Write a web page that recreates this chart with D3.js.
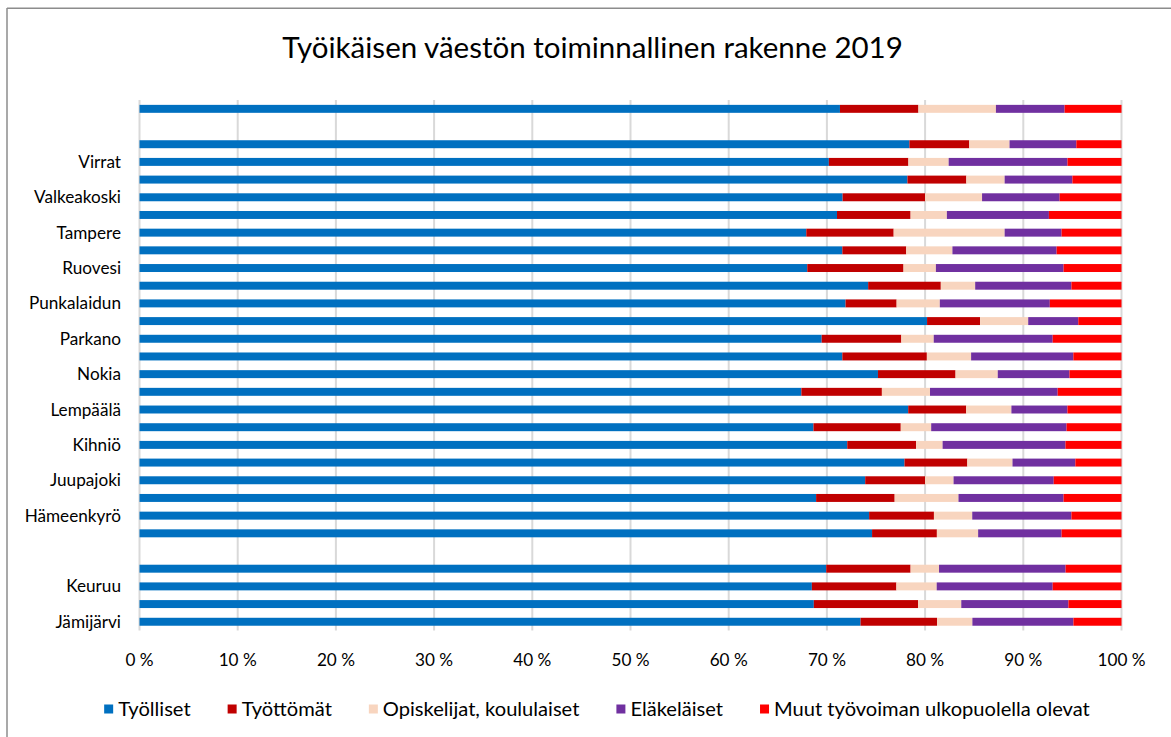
<!DOCTYPE html>
<html>
<head>
<meta charset="utf-8">
<script src="https://cdn.jsdelivr.net/npm/d3@7"></script>
<style>
  body { margin: 0; background: #fff; }
  svg { display: block; }
  text { font-family: Lato, "Open Sans", sans-serif; fill: #000; }
</style>
</head>
<body>
<svg id="chart" width="1171" height="737"></svg>
<script>
// Categories, bottom row first (empty strings are spacer rows)
const municipalities = [
  "Jämijärvi", "Kankaanpää", "Keuruu", "Multia", "",
  "Akaa", "Hämeenkyrö", "Ikaalinen", "Juupajoki", "Kangasala",
  "Kihniö", "Kuhmoinen", "Lempäälä", "Mänttä-Vilppula", "Nokia",
  "Orivesi", "Parkano", "Pirkkala", "Punkalaidun", "Pälkäne",
  "Ruovesi", "Sastamala", "Tampere", "Urjala", "Valkeakoski",
  "Vesilahti", "Virrat", "Ylöjärvi", "", "Pirkanmaa"
];

const seriesNames = ["Työlliset", "Työttömät", "Opiskelijat, koululaiset", "Eläkeläiset", "Muut työvoiman ulkopuolella olevat"];
const seriesColors = ["#0070C0", "#C00000", "#F8D5BF", "#7030A0", "#FF0000"];

// Shares of the working-age population, %
const tyolliset   = [73.5, 68.6, 68.4, 70.0, 0, 74.6, 74.3, 68.9, 73.9, 77.9, 72.0, 68.7, 78.2, 67.4, 75.2, 71.5, 69.4, 80.2, 71.9, 74.2, 68.0, 71.5, 67.9, 71.1, 71.6, 78.2, 70.2, 78.4, 0, 71.4];
const tyottomat   = [7.8, 10.6, 8.6, 8.6, 0, 6.6, 6.6, 8.0, 6.1, 6.4, 7.0, 8.9, 5.9, 8.2, 7.9, 8.6, 8.1, 5.4, 5.2, 7.4, 9.8, 6.5, 8.9, 7.5, 8.4, 6.0, 8.1, 6.1, 0, 8.0];
const opiskelijat = [3.6, 4.4, 4.1, 2.9, 0, 4.2, 3.9, 6.5, 2.9, 4.6, 2.7, 3.1, 4.6, 4.9, 4.3, 4.5, 3.3, 4.9, 4.4, 3.5, 3.3, 4.7, 11.3, 3.7, 5.8, 3.9, 4.1, 4.1, 0, 7.9];
const elakelaiset = [10.3, 10.9, 11.8, 12.9, 0, 8.5, 10.1, 10.7, 10.2, 6.4, 12.5, 13.8, 5.7, 13.0, 7.3, 10.4, 12.1, 5.1, 11.2, 9.8, 13.0, 10.6, 5.8, 10.4, 7.9, 6.9, 12.1, 6.8, 0, 7.0];
const muut        = [4.9, 5.4, 7.0, 5.7, 0, 6.1, 5.1, 5.9, 6.9, 4.7, 5.7, 5.6, 5.5, 6.5, 5.3, 4.9, 7.0, 4.4, 7.3, 5.1, 5.9, 6.6, 6.1, 7.4, 6.3, 5.0, 5.5, 4.6, 0, 5.8];

const xTicks = [0, 10, 20, 30, 40, 50, 60, 70, 80, 90, 100];
const titleText = "Työikäisen väestön toiminnallinen rakenne 2019";

const seriesValues = [tyolliset, tyottomat, opiskelijat, elakelaiset, muut];
const rows = municipalities.map((name, i) => {
  const r = { idx: i, name };
  seriesNames.forEach((s, k) => { r[s] = seriesValues[k][i]; });
  return r;
});

const svg = d3.select("#chart");

// chart frame (left and top edges visible)
svg.append("line").attr("x1", 7).attr("x2", 7).attr("y1", 8).attr("y2", 737)
  .attr("stroke", "#8c8c8c").attr("stroke-width", 1.5);
svg.append("line").attr("x1", 7).attr("x2", 1171).attr("y1", 8.3).attr("y2", 8.3)
  .attr("stroke", "#8c8c8c").attr("stroke-width", 1.5);

const x = d3.scaleLinear().domain([0, 1]).range([139.5, 1121.5]);
const y = d3.scaleBand()
  .domain(d3.range(municipalities.length).reverse())
  .range([100, 630.6])
  .paddingInner(0.55)
  .paddingOuter(0.275);

// vertical gridlines
svg.append("g").selectAll("line").data(xTicks).join("line")
  .attr("x1", d => x(d / 100)).attr("x2", d => x(d / 100))
  .attr("y1", 100).attr("y2", 630.6)
  .attr("stroke", "#d9d9d9").attr("stroke-width", 2);

// 100 % stacked bars
const stack = d3.stack().keys(seriesNames).offset(d3.stackOffsetExpand);
const stacked = stack(rows);

svg.append("g").selectAll("g").data(stacked).join("g")
  .attr("fill", (d, k) => seriesColors[k])
  .selectAll("rect")
  .data(d => d.filter(p => p.data.name !== ""))
  .join("rect")
  .attr("x", p => x(p[0]))
  .attr("width", p => Math.max(0, x(p[1]) - x(p[0])))
  .attr("y", p => y(p.data.idx))
  .attr("height", y.bandwidth());

// fit a text element's font size to a target width
function fitFont(sel, target) {
  const w = sel.node().getComputedTextLength();
  const fs = parseFloat(sel.attr("font-size"));
  return fs * target / w;
}

// label font size from a reference label width
const probe = svg.append("text").attr("font-size", 18).text("Valkeakoski");
const labelSize = fitFont(probe, 87);
probe.remove();

// category labels, every second row
svg.append("g").selectAll("text")
  .data(rows.filter(r => r.idx % 2 === 0 && r.name !== ""))
  .join("text")
  .attr("x", 121)
  .attr("y", r => y(r.idx) + y.bandwidth() / 2)
  .attr("dy", "0.35em")
  .attr("text-anchor", "end")
  .attr("font-size", labelSize)
  .text(r => r.name);

// x tick labels
svg.append("g").selectAll("text").data(xTicks).join("text")
  .attr("x", d => x(d / 100))
  .attr("y", 660)
  .attr("dy", "0.35em")
  .attr("text-anchor", "middle")
  .attr("font-size", labelSize)
  .text(d => d + " %");

// title
const title = svg.append("text")
  .attr("x", 592.5).attr("y", 58)
  .attr("text-anchor", "middle")
  .attr("font-size", 28)
  .text(titleText);
title.attr("font-size", fitFont(title, 621));

// legend
const legendG = svg.append("g");
const items = legendG.selectAll("g").data(seriesNames).join("g");
items.append("rect").attr("width", 9).attr("height", 9).attr("y", -4.5)
  .attr("fill", (d, k) => seriesColors[k]);
const legendTexts = items.append("text").attr("x", 14).attr("dy", "0.35em")
  .attr("font-size", 18).text(d => d);
let total = 0;
legendTexts.each(function () { total += this.getComputedTextLength(); });
const legendSize = 18 * 768 / total;
legendTexts.attr("font-size", legendSize);
const widths = [];
legendTexts.each(function () { widths.push(this.getComputedTextLength()); });
const gap = 37;
const fullWidth = d3.sum(widths) + widths.length * 14 + (widths.length - 1) * gap;
let cx = 597 - fullWidth / 2;
items.attr("transform", (d, k) => {
  const t = `translate(${cx},709)`;
  cx += 14 + widths[k] + gap;
  return t;
});
</script>
</body>
</html>
